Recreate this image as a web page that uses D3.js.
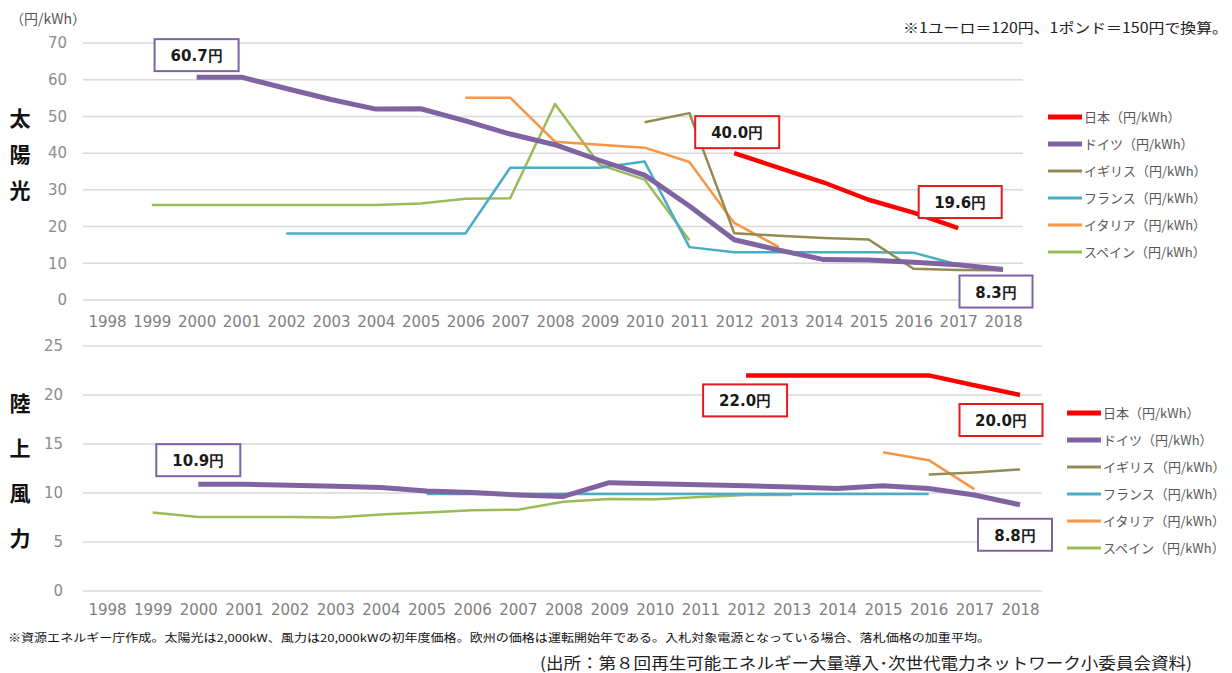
<!DOCTYPE html>
<html>
<head>
<meta charset="utf-8">
<script src="https://cdnjs.cloudflare.com/ajax/libs/d3/7.8.5/d3.min.js"></script>
<style>
  body { margin: 0; background: #fff; }
  svg { display: block; }
</style>
</head>
<body>
<div id="chart"></div>
<script>
// ---- data ----
const years = d3.range(1998, 2019).map(String);
const countries = ["日本", "ドイツ", "イギリス", "フランス", "イタリア", "スペイン"];

// solar (円/kWh), [year, value]
const solarJapan   = [[2012, 40.0], [2013, 36], [2014, 32], [2015, 27.3], [2016, 23.8], [2017, 19.6]];
const solarGermany = [[2000, 60.7], [2001, 60.7], [2002, 57.6], [2003, 54.6], [2004, 52.0], [2005, 52.1],
                      [2006, 48.8], [2007, 45.2], [2008, 42.3], [2009, 38.0], [2010, 34.0], [2011, 25.6],
                      [2012, 16.4], [2013, 13.6], [2014, 11.0], [2015, 10.9], [2016, 10.3], [2017, 9.6], [2018, 8.3]];
const solarUK      = [[2010, 48.4], [2011, 50.9], [2012, 18.2], [2013, 17.5], [2014, 16.9], [2015, 16.5],
                      [2016, 8.5], [2017, 8.2], [2018, 8.1]];
const solarFrance  = [[2002, 18.1], [2003, 18.1], [2004, 18.1], [2005, 18.1], [2006, 18.1], [2007, 36.0],
                      [2008, 36.0], [2009, 36.0], [2010, 37.7], [2011, 14.4], [2012, 13.0], [2013, 13.0],
                      [2014, 13.0], [2015, 13.0], [2016, 12.9], [2017, 9.6]];
const solarItaly   = [[2006, 55.1], [2007, 55.1], [2008, 43.1], [2009, 42.3], [2010, 41.5], [2011, 37.6],
                      [2012, 21.0], [2013, 14.4]];
const solarSpain   = [[1999, 25.9], [2000, 25.9], [2001, 25.9], [2002, 25.9], [2003, 25.9], [2004, 25.9],
                      [2005, 26.3], [2006, 27.6], [2007, 27.7], [2008, 53.4], [2009, 36.8], [2010, 32.8], [2011, 16.3]];

// onshore wind (円/kWh)
const windJapan   = [[2012, 22.0], [2013, 22.0], [2014, 22.0], [2015, 22.0], [2016, 22.0], [2017, 21.0], [2018, 20.0]];
const windGermany = [[2000, 10.9], [2001, 10.9], [2002, 10.8], [2003, 10.7], [2004, 10.55], [2005, 10.2],
                     [2006, 10.05], [2007, 9.8], [2008, 9.65], [2009, 11.05], [2010, 10.95], [2011, 10.85],
                     [2012, 10.75], [2013, 10.6], [2014, 10.45], [2015, 10.75], [2016, 10.45], [2017, 9.8], [2018, 8.8]];
const windUK      = [[2016, 11.9], [2017, 12.1], [2018, 12.4]];
const windFrance  = [[2005, 9.9], [2006, 9.9], [2007, 9.9], [2008, 9.9], [2009, 9.9], [2010, 9.9], [2011, 9.9],
                     [2012, 9.9], [2013, 9.9], [2014, 9.9], [2015, 9.9], [2016, 9.9]];
const windItaly   = [[2015, 14.15], [2016, 13.35], [2017, 10.4]];
const windSpain   = [[1999, 8.0], [2000, 7.55], [2001, 7.55], [2002, 7.55], [2003, 7.5], [2004, 7.8], [2005, 8.0],
                     [2006, 8.25], [2007, 8.3], [2008, 9.1], [2009, 9.4], [2010, 9.35], [2011, 9.6], [2012, 9.8], [2013, 9.8]];

const solarTicks = [0, 10, 20, 30, 40, 50, 60, 70];
const windTicks = [0, 5, 10, 15, 20, 25];

// callouts: [series index, year, value text]
const solarCallouts = [[1, 2000, "60.7円"], [0, 2012, "40.0円"], [0, 2017, "19.6円"], [1, 2018, "8.3円"]];
const windCallouts  = [[1, 2000, "10.9円"], [0, 2012, "22.0円"], [0, 2018, "20.0円"], [1, 2018, "8.8円"]];

const colors = ["#ff0000", "#8064a2", "#948a54", "#4bacc6", "#f79646", "#9bbb59"];
const widths = [4.5, 5, 2.5, 2.5, 2.5, 2.5];

const W = 1232, H = 673;
const numFont = "'DejaVu Sans', Verdana, sans-serif";
const jpFont = "'Noto Sans CJK JP', 'Noto Sans', sans-serif";

const svg = d3.select("#chart").append("svg")
  .attr("width", W).attr("height", H)
  .style("font-family", numFont);

function panel(opt) {
  const x = d3.scalePoint().domain(years).range(opt.xRange);
  const y = d3.scaleLinear().domain([0, opt.yMax]).range(opt.yRange);
  const g = svg.append("g");

  // gridlines
  g.append("g").selectAll("line").data(opt.ticks).join("line")
    .attr("x1", opt.gridX[0]).attr("x2", opt.gridX[1])
    .attr("y1", d => y(d)).attr("y2", d => y(d))
    .attr("stroke", "#d9d9d9").attr("stroke-width", 1.5);

  // y axis
  const ya = g.append("g")
    .attr("transform", `translate(${opt.yLabelX},0)`)
    .call(d3.axisLeft(y).tickValues(opt.ticks).tickSize(0).tickPadding(0));
  ya.select(".domain").remove();
  ya.selectAll("text").attr("fill", "#8c8c8c").style("font-size", "15px").style("font-family", numFont);

  // x axis
  const xa = g.append("g")
    .attr("transform", `translate(0,${opt.xLabelY})`)
    .call(d3.axisBottom(x).tickSize(0).tickPadding(0));
  xa.select(".domain").remove();
  xa.selectAll("text").attr("fill", "#7f7f7f").style("font-size", "15px").style("font-family", numFont);

  const line = d3.line().x(d => x(String(d[0]))).y(d => y(d[1]));

  // draw thinner series first, Japan and Germany on top
  const order = [5, 4, 3, 2, 1, 0];
  order.forEach(i => {
    g.append("path").datum(opt.series[i])
      .attr("fill", "none")
      .attr("stroke", colors[i])
      .attr("stroke-width", widths[i])
      .attr("stroke-linejoin", "round")
      .attr("d", line);
  });

  // callouts
  opt.callouts.forEach((c, k) => {
    const [si, yr, txt] = c;
    const pt = opt.series[si].find(d => d[0] === yr);
    const off = opt.calloutOffsets[k];
    const cx = x(String(yr)) + off[0], cy = y(pt[1]) + off[1];
    const bw = off[2], bh = 32;
    g.append("rect")
      .attr("x", cx - bw / 2).attr("y", cy - bh / 2)
      .attr("width", bw).attr("height", bh)
      .attr("fill", "#fff")
      .attr("stroke", si === 0 ? "#e8191f" : "#7c62a6")
      .attr("stroke-width", 2);
    g.append("text")
      .attr("x", cx).attr("y", cy + 6)
      .attr("text-anchor", "middle")
      .style("font-size", "15px").style("font-weight", "bold")
      .attr("fill", "#1a1a1a")
      .text(txt);
  });

  // side title (vertical)
  g.append("g").selectAll("text").data(opt.title.split("")).join("text")
    .attr("x", 20).attr("y", (d, i) => opt.titleY + i * opt.titleStep)
    .attr("text-anchor", "middle")
    .style("font-family", jpFont).style("font-weight", "bold").style("font-size", "21px")
    .attr("fill", "#111")
    .text(d => d);

  // legend
  const lg = g.append("g").attr("transform", `translate(${opt.legend[0]},${opt.legend[1]})`);
  countries.forEach((name, i) => {
    const row = lg.append("g").attr("transform", `translate(0,${i * opt.legendStep})`);
    row.append("line").attr("x1", 0).attr("x2", 34).attr("y1", 0).attr("y2", 0)
      .attr("stroke", colors[i]).attr("stroke-width", i < 2 ? 5 : 3);
    row.append("text").attr("x", 36).attr("y", 5)
      .style("font-family", jpFont).style("font-size", "13px")
      .attr("fill", "#595959")
      .text(name + "（円/kWh）");
  });
}

panel({
  series: [solarJapan, solarGermany, solarUK, solarFrance, solarItaly, solarSpain],
  xRange: [107, 1003], gridX: [83, 1023],
  yMax: 70, yRange: [300, 43], ticks: solarTicks,
  yLabelX: 67, xLabelY: 316,
  callouts: solarCallouts,
  calloutOffsets: [[0, -22, 84], [3, -21, 84], [2, -26, 83], [-7, 22, 73]],
  title: "太陽光", titleY: 126, titleStep: 36,
  legend: [1048, 117], legendStep: 27
});

panel({
  series: [windJapan, windGermany, windUK, windFrance, windItaly, windSpain],
  xRange: [107, 1020], gridX: [83, 1042],
  yMax: 25, yRange: [591, 346], ticks: windTicks,
  yLabelX: 63, xLabelY: 604,
  callouts: windCallouts,
  calloutOffsets: [[0, -24, 84], [-1, 25, 84], [-19, 25, 83], [-5, 30, 74]],
  title: "陸上風力", titleY: 411, titleStep: 45,
  legend: [1067, 413], legendStep: 27
});

// unit label and notes
svg.append("text").attr("x", 10).attr("y", 24)
  .style("font-family", jpFont).style("font-size", "14px").attr("fill", "#595959")
  .text("（円/kWh）");

svg.append("text").attr("x", 903).attr("y", 33)
  .style("font-family", jpFont).style("font-size", "14px").attr("fill", "#222")
  .attr("textLength", 325).attr("lengthAdjust", "spacingAndGlyphs")
  .text("※1ユーロ＝120円、1ポンド＝150円で換算。");

svg.append("text").attr("x", 8).attr("y", 642)
  .style("font-family", jpFont).style("font-size", "11px").attr("fill", "#111")
  .attr("textLength", 982).attr("lengthAdjust", "spacingAndGlyphs")
  .text("※資源エネルギー庁作成。太陽光は2,000kW、風力は20,000kWの初年度価格。欧州の価格は運転開始年である。入札対象電源となっている場合、落札価格の加重平均。");

svg.append("text").attr("x", 540).attr("y", 669)
  .style("font-family", jpFont).style("font-size", "16px").attr("fill", "#222")
  .attr("textLength", 652).attr("lengthAdjust", "spacingAndGlyphs")
  .text("(出所：第８回再生可能エネルギー大量導入･次世代電力ネットワーク小委員会資料)");
</script>
</body>
</html>
